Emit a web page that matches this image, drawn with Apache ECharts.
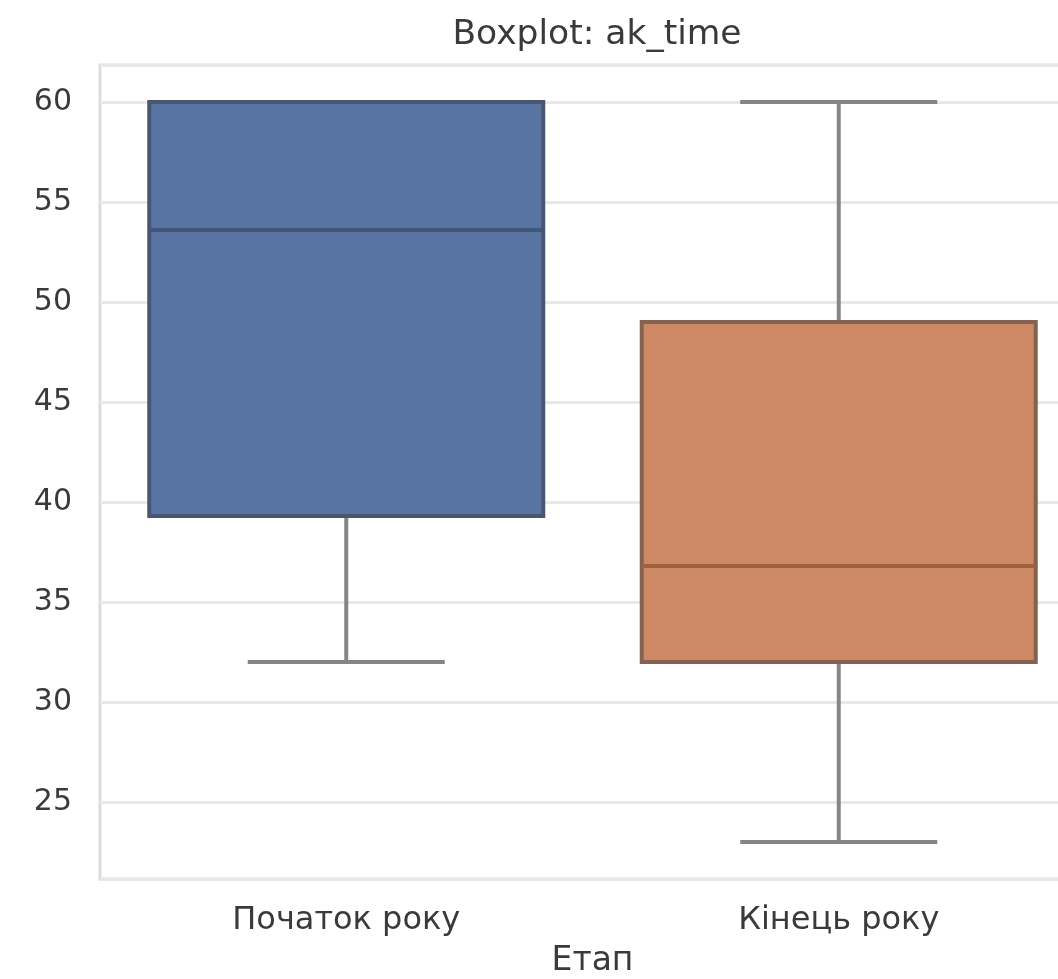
<!DOCTYPE html>
<html>
<head>
<meta charset="utf-8">
<script src="https://cdn.jsdelivr.net/npm/echarts@6/dist/echarts.min.js"></script>
<style>
html,body{margin:0;padding:0;background:#fff;overflow:hidden;}
#chart{width:1058px;height:979px;}
</style>
</head>
<body>
<div id="chart"></div>
<script>
// ---- data ----
var categories = ['Початок року', 'Кінець року'];
var whiskerLow  = [32, 23];
var q1          = [39.3, 32];
var median      = [53.6, 36.8];
var q3          = [60, 49];
var whiskerHigh = [60, 60];
var title = 'Boxplot: ak_time';
var xName = 'Етап';

var fills  = ['#5874a3', '#cc8964'];
var edges  = ['#4a5670', '#85614f'];
var medCol = ['#44557a', '#a0613f'];
var whiskCol = '#858585';

var rows = categories.map(function (c, i) {
  return [i, whiskerLow[i], q1[i], median[i], q3[i], whiskerHigh[i]];
});

var chart = echarts.init(document.getElementById('chart'));
var font = 'DejaVu Sans';

chart.setOption({
  backgroundColor: '#ffffff',
  animation: false,
  title: {
    text: title,
    left: 592,
    textAlign: 'center',
    top: 13,
    textStyle: { fontFamily: font, fontSize: 34.5, fontWeight: 'normal', color: '#3a3a3a' }
  },
  grid: {
    left: 100, top: 65, width: 985, height: 814,
    containLabel: false,
    outerBoundsMode: 'none',
    show: true, borderColor: '#dcdcdc', borderWidth: 3, backgroundColor: 'transparent'
  },
  xAxis: {
    type: 'category',
    data: categories,
    boundaryGap: true,
    name: xName,
    nameLocation: 'middle',
    nameGap: 66,
    nameTextStyle: { fontFamily: font, fontSize: 33, color: '#3a3a3a' },
    axisLine: { show: false },
    axisTick: { show: false },
    splitLine: { show: false },
    axisLabel: { fontFamily: font, fontSize: 32, color: '#3a3a3a', margin: 26 }
  },
  yAxis: {
    type: 'value',
    min: 21.15,
    max: 61.85,
    splitNumber: 8,
    minInterval: 5,
    maxInterval: 5,
    axisLine: { show: false },
    axisTick: { show: false },
    axisLabel: { fontFamily: font, fontSize: 30, color: '#3a3a3a', margin: 28, showMinLabel: false, showMaxLabel: false },
    splitLine: { show: true, lineStyle: { color: '#e8e8e8', width: 3 } }
  },
  series: [{
    type: 'custom',
    data: rows,
    encode: { x: 0, y: [1, 2, 3, 4, 5] },
    renderItem: function (params, api) {
      var i = api.value(0);
      var band = api.size([1, 0])[0];
      var half = band * 0.8 / 2;
      var capHalf = half / 2;
      var pLow = api.coord([i, api.value(1)]);
      var pQ1 = api.coord([i, api.value(2)]);
      var pMed = api.coord([i, api.value(3)]);
      var pQ3 = api.coord([i, api.value(4)]);
      var pHigh = api.coord([i, api.value(5)]);
      var cx = pQ1[0];
      var lw = 4;
      var children = [
        { type: 'line', shape: { x1: cx, y1: pQ1[1], x2: cx, y2: pLow[1] }, style: { stroke: whiskCol, lineWidth: lw } },
        { type: 'line', shape: { x1: cx, y1: pQ3[1], x2: cx, y2: pHigh[1] }, style: { stroke: whiskCol, lineWidth: lw } },
        { type: 'line', shape: { x1: cx - capHalf, y1: pLow[1], x2: cx + capHalf, y2: pLow[1] }, style: { stroke: whiskCol, lineWidth: lw } },
        { type: 'line', shape: { x1: cx - capHalf, y1: pHigh[1], x2: cx + capHalf, y2: pHigh[1] }, style: { stroke: whiskCol, lineWidth: lw } },
        { type: 'rect', shape: { x: cx - half, y: pQ3[1], width: half * 2, height: pQ1[1] - pQ3[1] },
          style: { fill: fills[i], stroke: edges[i], lineWidth: lw } },
        { type: 'line', shape: { x1: cx - half, y1: pMed[1], x2: cx + half, y2: pMed[1] }, style: { stroke: medCol[i], lineWidth: lw } }
      ];
      return { type: 'group', children: children };
    }
  }]
});
</script>
</body>
</html>
